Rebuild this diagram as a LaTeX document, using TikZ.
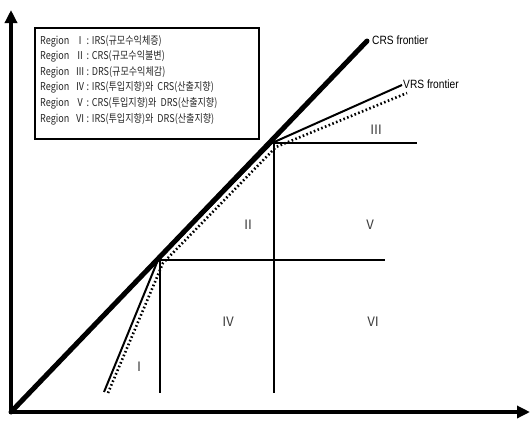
\documentclass[tikz,border=0pt]{standalone}
\usepackage{fontspec}
\setmainfont{Liberation Sans}
\newfontfamily\kr{Noto Sans CJK KR}
\usetikzlibrary{arrows.meta}
\tikzset{
  axisline/.style={line width=4pt,-{Triangle[length=13pt,width=12pt]}},
  crsline/.style={line width=5pt},
  vrsline/.style={line width=2pt},
  dotline/.style={line width=2.6pt,dash pattern=on 1.6pt off 2.4pt},
  gridline/.style={line width=2pt},
  reglabel/.style={font=\kr\fontsize{13}{13}\selectfont,text=black!75,inner sep=0pt},
  frontlabel/.style={font=\fontsize{12}{12}\selectfont,anchor=west,inner sep=0pt},
  legrow/.style={font=\kr\fontsize{10.8}{10.8}\selectfont,anchor=west,inner sep=0pt,text=black!85},
}
\begin{document}
\begin{tikzpicture}[x=1pt,y=-1pt]
\useasboundingbox (0,0) rectangle (530,421);
% coordinates
\coordinate (O) at (11,412);
\coordinate (ytop) at (11,10);
\coordinate (xend) at (530,412);
\coordinate (crsend) at (367,41);
\coordinate (A) at (158,260);
\coordinate (B) at (272,143);
\coordinate (vlow) at (104,392);
\coordinate (vhigh) at (402,85);
\coordinate (dlow) at (108,393);
\coordinate (dA) at (163,263);
\coordinate (dB) at (276,147);
\coordinate (dhigh) at (407,93);
\coordinate (v1b) at (160,393);
\coordinate (v1t) at (160,260);
\coordinate (v2b) at (274,393);
\coordinate (v2t) at (274,143);
\coordinate (h1r) at (385,260);
\coordinate (h2r) at (417,143);
% axes
\draw[axisline] (O) -- (ytop);
\draw[axisline] (O) -- (xend);
% CRS
\draw[crsline,line cap=round] (O) -- (crsend);
% VRS
\draw[vrsline] (vlow) -- (A) -- (B) -- (vhigh);
\draw[dotline] (dlow) -- (dA) -- (dB) -- (dhigh);
% grid lines
\draw[gridline] (v1t) -- (v1b);
\draw[gridline] (v2t) -- (v2b);
\draw[gridline] (v1t) -- (h1r);
\draw[gridline] (v2t) -- (h2r);
% labels
\node[frontlabel] (crslab) at (372,40) {\scalebox{0.85}[1]{CRS frontier}};
\node[frontlabel] (vrslab) at (403,84) {\scalebox{0.85}[1]{VRS frontier}};
\node[reglabel] (r1) at (139,367) {Ⅰ};
\node[reglabel] (r2) at (248,225) {Ⅱ};
\node[reglabel] (r3) at (376,130) {Ⅲ};
\node[reglabel] (r4) at (228,322) {Ⅳ};
\node[reglabel] (r5) at (370,225) {Ⅴ};
\node[reglabel] (r6) at (373,322) {Ⅵ};
% legend
\node[draw,line width=1.5pt,minimum width=224pt,minimum height=111pt,anchor=north west,inner sep=0pt] (leg) at (34,27) {};
\foreach \t [count=\i] in {Region~~~Ⅰ~: IRS(규모수익체증),Region~~~Ⅱ~: CRS(규모수익불변),Region~~~Ⅲ~: DRS(규모수익체감),Region~~~Ⅳ~: IRS(투입지향)와 ~CRS(산출지향),Region~~~Ⅴ~: CRS(투입지향)와 ~DRS(산출지향),Region~~~Ⅵ~: IRS(투입지향)와 ~DRS(산출지향)}
  \node[legrow] (l\i) at (40,{41+(\i-1)*15.6}) {\scalebox{0.84}[1]{\t}};
\end{tikzpicture}
\end{document}
